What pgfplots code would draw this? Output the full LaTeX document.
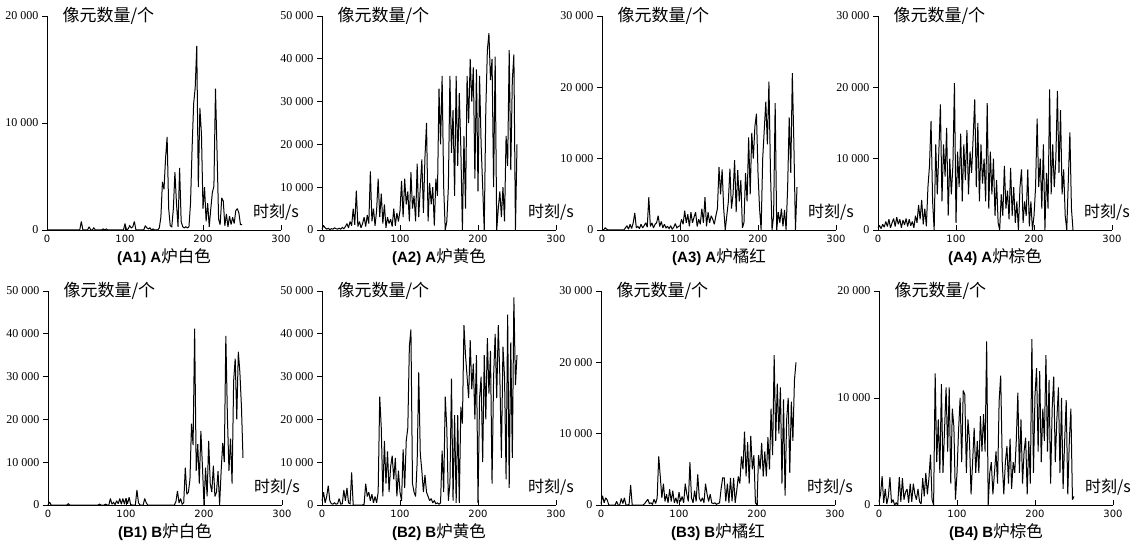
\documentclass[border=0pt]{standalone}
\usepackage{fontspec}
\setmainfont{Liberation Serif}
\newfontfamily\cjk{Noto Sans CJK SC}
\newfontfamily\lsans{Liberation Sans}
\newfontfamily\dsans{DejaVu Sans}
\usepackage{pgfplots}
\usepackage{pgfplotstable}
\pgfplotsset{compat=1.18}
% values in thousands of pixels
\pgfplotstableread{
t a1 a2 a3 a4 b1 b2 b3 b4
0 0 0.3 0 0.3 0 1.0 0.2 0.3
2 0 1.0 0 0.6 0.7 3.0 1.3 1.0
4 0 0.5 0.3 0.2 0 0.5 0.3 2.7
6 0 0.2 0.1 0.8 0 2.0 1.0 0.2
8 0 0.4 0 0.4 0 4.5 0.7 1.5
10 0 0.1 0 1.2 0 1.0 0 0.1
12 0 0.3 0 0.5 0 0.3 0 0.8
14 0 0.2 0 1.5 0 0.2 0 2.6
16 0 0.5 0 0.3 0 0.5 0 0.2
18 0 0.3 0 1.0 0 0.2 0 0.5
20 0 0.2 0 1.6 0 0.3 0.5 0.0
22 0 0.4 0 0.5 0 1.5 0 0.2
24 0 0.2 0 1.8 0 0.2 0 0.0
26 0 0.6 0 0.8 0.3 0.3 0.9 2.6
28 0 0.3 0 1.5 0 3.5 0.2 0.3
30 0 0.8 0.3 0.3 0 1.0 1.0 2.5
32 0 1.5 0.6 1.4 0 4.0 0 0.5
34 0 0.5 0.1 0.7 0 0.5 0 1.2
36 0 2.0 0.8 1.6 0 0.3 0.1 1.5
38 0 1.0 0.2 0.5 0 7.6 2.8 0.2
40 0 5.0 1.0 1.5 0 0 0 2.0
42 0 1.2 2.4 0.6 0 0 0 0.3
44 0.8 9.2 0.3 1.2 0 0 0 2.0
46 0 0.8 0.5 0.3 0 0 0 1.0
48 0 2.0 0.2 2.0 0 0 0 0.5
50 0 0.5 0.8 1.0 0 0 0 1.5
52 0 1.5 0.3 3.5 0 0 0 0.3
54 0.3 3.0 0.6 1.5 0 0.2 0 0.1
56 0 0.8 1.0 4.2 0 5.0 0.2 2.5
58 0 3.5 0.4 0.8 0 2.0 0.5 0.8
60 0.2 1.5 4.6 3.0 0 3.0 0.8 3.0
62 0 13.7 0.5 0.5 0 1.0 0.2 1.0
64 0 2.0 1.0 6.0 0 2.5 0.3 2.5
66 0 5.0 0.3 9.0 0.2 0.5 0.1 4.7
68 0 1.0 0.8 15.3 0 2.0 0.8 0.5
70 0 4.5 1.0 4.0 0 0.5 0.2 0.0
72 0.1 12.0 2.0 0.0 0 3.0 1.0 12.3
74 0 3.0 0.5 12.0 0.2 25.3 6.8 4.0
76 0.1 8.5 1.2 5.0 0 18.0 4.0 8.0
78 0 1.5 0.3 11.0 0 2.0 1.0 3.0
80 0 6.0 0.8 17.6 1.5 15.0 3.0 11.3
82 0 0.5 0.3 4.0 0.2 5.0 0.5 3.0
84 0 3.0 0.5 12.0 0.6 12.5 1.5 7.0
86 0 1.5 0.2 7.5 0.1 3.0 0.3 11.0
88 0 2.5 0.6 14.3 1.0 9.0 2.2 5.0
90 0 0.8 0.1 2.0 0.3 11.5 0.5 11.0
92 0 5.0 0.4 10.0 1.5 6.0 2.0 2.0
94 0 1.0 0.9 5.0 0.2 11.0 0.3 9.0
96 0 4.0 0.3 9.0 1.5 2.0 1.0 7.3
98 0 2.0 0.5 20.6 0.2 8.0 0.2 0.5
100 0.6 4.5 0.6 1.0 1.6 3.0 1.8 3.0
102 0 11.5 1.5 11.0 0.3 1.0 0.5 7.0
104 0.1 3.0 0.8 6.0 1.8 13.0 1.2 10.0
106 0.4 12.0 2.7 13.5 0.1 4.0 0.3 4.0
108 0.2 6.0 1.0 4.0 0 15.0 3.0 10.7
110 0.3 9.0 2.2 12.0 0 18.0 1.5 10.3
112 0.8 2.0 0.5 7.0 0 37.0 0.5 3.0
114 0 13.5 2.5 14.0 3.5 41.0 6.0 8.0
116 0 5.0 1.0 5.0 0.5 5.0 1.0 6.0
118 0 8.0 1.8 11.0 0 3.0 0.3 1.0
120 0 2.0 2.5 8.0 0 2.0 2.0 4.0
122 0 15.5 0.5 13.0 0 10.0 0.5 7.2
124 0 3.0 1.5 18.3 1.5 31.0 4.3 3.0
126 0.4 10.0 0.8 6.0 0.5 12.0 1.0 6.0
128 0.2 16.5 3.0 15.0 0 8.0 0.5 3.0
130 0.1 4.0 1.0 4.0 0 3.0 1.0 8.3
132 0.2 17.0 4.6 12.0 0 7.0 0.3 5.0
134 0 25.0 0.5 6.5 0 3.0 3.0 8.5
136 0.1 2.0 2.5 10.0 0 2.0 1.5 5.0
138 0 11.0 1.0 4.0 0 1.0 0.5 15.3
140 0 6.0 2.0 17.8 0 1.5 1.5 0.0
142 0 10.0 1.5 3.0 0 0.5 0.3 3.0
144 0.2 1.0 0.8 11.0 0 1.0 0.2 4.0
146 1.2 12.0 2.0 5.0 0 0.3 0.3 1.0
148 4.5 8.0 3.0 10.0 0 0.5 0.1 3.0
150 3.8 33.0 8.8 2.0 0 0.2 0.2 5.0
152 6.7 20.0 5.0 7.0 0 0.5 0.3 2.0
154 8.7 36.0 8.5 1.0 0 12.7 2.3 9.7
156 2.0 10.0 3.0 0.0 0 3.0 3.8 12.1
158 0.4 0.0 0.0 5.0 0 25.3 3.8 4.0
160 0.3 2.0 2.0 2.0 0 18.0 0.5 1.0
162 2.0 10.0 4.0 9.0 0 1.0 3.0 4.0
164 5.4 36.0 8.6 3.0 0.8 5.0 0.3 5.5
166 2.5 18.0 3.0 5.5 3.3 29.5 3.8 2.0
168 0.3 28.0 5.0 1.5 0.5 1.0 0.5 6.2
170 5.8 8.0 9.8 8.7 1.5 21.0 3.8 1.5
172 0.8 36.0 2.5 2.0 0.2 0.5 0.3 4.0
174 0.3 15.0 8.4 6.0 0.5 21.0 2.0 3.0
176 0.2 32.0 4.0 1.0 8.7 0.5 4.0 6.0
178 0.3 19.0 7.0 4.0 2.5 23.0 3.0 10.5
180 0.2 0.0 0.3 0.0 3.0 19.0 6.8 3.0
182 0.3 22.0 1.0 6.0 6.0 42.0 5.0 8.0
184 2.5 5.0 8.0 8.5 19.0 35.0 10.3 2.0
186 7.6 36.0 4.0 1.0 14.0 30.0 4.0 5.0
188 11.8 25.0 13.0 4.0 41.2 25.0 8.8 6.3
190 13.3 40.0 5.0 2.0 8.0 38.5 3.0 1.0
192 17.2 30.0 13.6 8.5 14.2 27.0 9.7 6.0
194 4.0 38.0 10.0 0.5 5.0 33.0 5.0 2.0
196 11.4 12.0 14.5 4.0 17.3 20.0 7.0 15.5
198 9.0 37.5 16.3 0.0 9.0 35.0 0.3 3.0
200 2.0 9.0 8.0 2.0 0.0 0.5 0.0 10.3
202 4.0 36.0 3.0 6.0 8.7 25.0 7.0 12.8
204 0.8 20.0 0.0 15.6 2.0 30.0 5.0 5.0
206 2.5 10.0 10.0 6.0 15.0 10.0 8.7 12.5
208 0.3 0.0 14.0 10.0 5.0 35.0 4.0 4.0
210 2.0 28.0 18.0 3.0 3.0 20.0 7.5 9.0
212 3.5 42.0 12.0 12.0 9.2 39.0 4.0 6.0
214 4.1 46.0 20.8 0.0 2.0 26.0 9.5 14.0
216 13.2 35.0 8.0 8.0 3.0 36.0 5.0 5.0
218 7.3 40.0 0.0 3.0 7.9 5.0 13.5 11.7
220 1.0 10.0 2.0 19.7 0.0 30.0 7.0 2.0
222 0.5 40.5 17.8 5.0 8.0 40.0 21.0 9.0
224 3.0 0.0 0.0 12.0 14.5 25.0 9.0 12.0
226 2.7 5.0 2.5 6.0 10.0 42.0 17.0 4.0
228 0.4 9.0 1.0 10.0 39.5 30.0 10.0 8.0
230 1.5 3.0 3.0 19.5 20.7 11.0 16.5 11.0
232 0.3 10.0 0.5 8.0 8.0 37.0 3.0 3.0
234 1.3 2.0 2.8 16.8 15.5 30.0 14.8 10.0
236 0.5 22.0 0.0 5.0 5.0 6.0 1.3 1.5
238 1.2 15.0 6.0 8.5 29.0 44.5 12.0 6.0
240 0.6 42.0 15.8 2.0 34.2 4.0 15.0 9.8
242 1.8 14.0 8.0 0.0 20.0 38.0 4.5 1.0
244 2.0 35.0 22.0 7.0 35.8 11.0 14.5 6.0
246 1.6 41.0 12.0 13.7 31.0 48.5 9.0 9.0
248 0.5 0.0 0.0 3.0 23.0 28.0 17.5 0.5
250 0.5 20.0 6.0 0.0 11.0 35.0 20.0 0.8
}\data

\pgfplotsset{panel/.style={
  scale only axis, width=234pt, height=214pt, anchor=south west,
  xmin=0, xmax=300, ymin=0, clip=false,
  axis lines=left, axis line style={-, line width=0.9pt, black},
  xtick={0,100,200,300}, xticklabels={0,100,200,300},
  tick align=outside, major tick length=5pt,
  tick style={black, line width=0.8pt},
  xtick style={yshift=5pt},
  xticklabel style={font=\dsans\fontsize{10}{10}\selectfont, yshift=3pt},
  yticklabel style={font=\fontsize{12}{12}\selectfont},
}}
\tikzset{
  tr/.style={black, line width=1.0pt, no marks, line join=miter, miter limit=2},
  ylab/.style={anchor=west, xshift=12pt, font=\cjk\fontsize{17}{17}\selectfont},
  xlab/.style={xshift=-5pt, yshift=18pt, font=\cjk\fontsize{16}{16}\selectfont},
  ttl/.style={yshift=-27pt, font=\cjk\fontsize{16.5}{16.5}\selectfont},
}
\newcommand{\tl}[1]{{\lsans\bfseries\fontsize{15}{15}\selectfont #1}}

\begin{document}
\begin{tikzpicture}
\path[use as bounding box] (0,0) rectangle (1145pt,549pt);
% ---- row A ----
\begin{axis}[panel, at={(47pt,319pt)}, ymax=20, ytick={0,10,20}, yticklabels={0,10\ 000,20\ 000}]
\addplot[tr] table[x=t,y=a1]{\data};
\node[ylab] at (rel axis cs:0,1) {像元数量/个};
\node[xlab] at (rel axis cs:1,0) {时刻/s};
\node[ttl] at (rel axis cs:0.5,0) {\tl{(A1) A}炉白色};
\end{axis}
\begin{axis}[panel, at={(322pt,319pt)}, ymax=50, ytick={0,10,20,30,40,50}, yticklabels={0,10\ 000,20\ 000,30\ 000,40\ 000,50\ 000}]
\addplot[tr] table[x=t,y=a2]{\data};
\node[ylab] at (rel axis cs:0,1) {像元数量/个};
\node[xlab] at (rel axis cs:1,0) {时刻/s};
\node[ttl] at (rel axis cs:0.5,0) {\tl{(A2) A}炉黄色};
\end{axis}
\begin{axis}[panel, at={(602pt,319pt)}, ymax=30, ytick={0,10,20,30}, yticklabels={0,10\ 000,20\ 000,30\ 000}]
\addplot[tr] table[x=t,y=a3]{\data};
\node[ylab] at (rel axis cs:0,1) {像元数量/个};
\node[xlab] at (rel axis cs:1,0) {时刻/s};
\node[ttl] at (rel axis cs:0.5,0) {\tl{(A3) A}炉橘红};
\end{axis}
\begin{axis}[panel, at={(878pt,319pt)}, ymax=30, ytick={0,10,20,30}, yticklabels={0,10\ 000,20\ 000,30\ 000}]
\addplot[tr] table[x=t,y=a4]{\data};
\node[ylab] at (rel axis cs:0,1) {像元数量/个};
\node[xlab] at (rel axis cs:1,0) {时刻/s};
\node[ttl] at (rel axis cs:0.5,0) {\tl{(A4) A}炉棕色};
\end{axis}
% ---- row B ----
\begin{axis}[panel, at={(48pt,44pt)}, ymax=50, ytick={0,10,20,30,40,50}, yticklabels={0,10\ 000,20\ 000,30\ 000,40\ 000,50\ 000}]
\addplot[tr] table[x=t,y=b1]{\data};
\node[ylab] at (rel axis cs:0,1) {像元数量/个};
\node[xlab] at (rel axis cs:1,0) {时刻/s};
\node[ttl] at (rel axis cs:0.5,0) {\tl{(B1) B}炉白色};
\end{axis}
\begin{axis}[panel, at={(322pt,44pt)}, ymax=50, ytick={0,10,20,30,40,50}, yticklabels={0,10\ 000,20\ 000,30\ 000,40\ 000,50\ 000}]
\addplot[tr] table[x=t,y=b2]{\data};
\node[ylab] at (rel axis cs:0,1) {像元数量/个};
\node[xlab] at (rel axis cs:1,0) {时刻/s};
\node[ttl] at (rel axis cs:0.5,0) {\tl{(B2) B}炉黄色};
\end{axis}
\begin{axis}[panel, at={(601pt,44pt)}, ymax=30, ytick={0,10,20,30}, yticklabels={0,10\ 000,20\ 000,30\ 000}]
\addplot[tr] table[x=t,y=b3]{\data};
\node[ylab] at (rel axis cs:0,1) {像元数量/个};
\node[xlab] at (rel axis cs:1,0) {时刻/s};
\node[ttl] at (rel axis cs:0.5,0) {\tl{(B3) B}炉橘红};
\end{axis}
\begin{axis}[panel, at={(879pt,44pt)}, ymax=20, ytick={0,10,20}, yticklabels={0,10\ 000,20\ 000}]
\addplot[tr] table[x=t,y=b4]{\data};
\node[ylab] at (rel axis cs:0,1) {像元数量/个};
\node[xlab] at (rel axis cs:1,0) {时刻/s};
\node[ttl] at (rel axis cs:0.5,0) {\tl{(B4) B}炉棕色};
\end{axis}
\end{tikzpicture}
\end{document}
